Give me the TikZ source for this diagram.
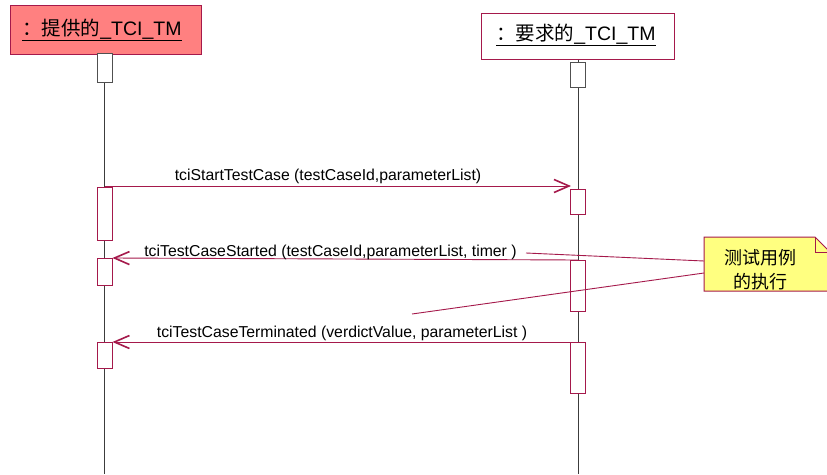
\documentclass[tikz,border=0pt]{standalone}
\usepackage{fontspec}
\setmainfont{Liberation Sans}
\newfontfamily\cjk{Noto Sans CJK SC}
\usetikzlibrary{arrows.meta}
\definecolor{umlred}{RGB}{165,25,75}
\definecolor{headfill}{RGB}{255,128,128}
\definecolor{notefill}{RGB}{255,255,128}
\definecolor{actgray}{RGB}{80,80,80}
\definecolor{lifegray}{RGB}{60,60,60}
\begin{document}
\begin{tikzpicture}[x=1pt,y=-1pt,
  headbox/.style={draw=umlred,line width=1pt,inner sep=0pt},
  titletext/.style={inner sep=0pt,font=\fontsize{19.5}{21}\selectfont},
  lifeline/.style={draw=lifegray,line width=1pt},
  act/.style={draw=umlred,fill=white,line width=0.9pt,minimum width=15pt,inner sep=0pt,anchor=north},
  actg/.style={act,draw=actgray},
  msg/.style={draw=umlred,line width=0.9pt,-{Straight Barb[length=15pt,width=13pt,line width=1.6pt]}},
  msglabel/.style={anchor=base,inner sep=0pt,font=\fontsize{15.8}{18}\selectfont},
  notelink/.style={draw=umlred,line width=0.9pt}
]
\useasboundingbox (0,0) rectangle (827,474);
\fill[white] (0,0) rectangle (827,474);

% heads
\node[headbox,fill=headfill,minimum width=191pt,minimum height=49pt] (h1) at (105.5,29.5) {};
\node[titletext] (t1) at (102,30) {\underline{{\cjk ：提供的}\_TCI\_TM}};
\node[headbox,fill=white,minimum width=193pt,minimum height=46pt] (h2) at (577.5,36) {};
\node[titletext] (t2) at (576,35) {\underline{{\cjk ：要求的}\_TCI\_TM}};

% lifelines
\coordinate (l1end) at (104.5,474);
\coordinate (l2end) at (578,474);
\draw[lifeline] (h1.south -| l1end) -- (l1end);
\draw[lifeline] (h2.south -| l2end) -- (l2end);

% activations left
\node[actg,minimum height=29pt] (la1) at (104.5,53) {};
\node[act,minimum height=53pt] (la2) at (104.5,187) {};
\node[act,minimum height=27pt] (la3) at (104.5,258) {};
\node[act,minimum height=26pt] (la4) at (104.5,342) {};
% activations right
\node[actg,minimum height=25pt] (ra1) at (578,62) {};
\node[act,minimum height=25pt] (ra2) at (578,189) {};
\node[act,minimum height=51pt] (ra3) at (578,260) {};
\node[act,minimum height=51pt] (ra4) at (578,342) {};

% messages
\coordinate (m1s) at (105,186);
\coordinate (m1e) at (571,186);
\draw[msg] (m1s) -- (m1e);
\node[msglabel] (m1l) at (328,180) {tciStartTestCase (testCaseId,parameterList)};

\draw[msg] (ra3.north) -- (la3.north east);
\node[msglabel] (m2l) at (330.5,256) {tciTestCaseStarted (testCaseId,parameterList, timer )};

\draw[msg] (ra4.north) -- (la4.north east);
\node[msglabel] (m3l) at (342,337) {tciTestCaseTerminated (verdictValue, parameterList )};

% note
\coordinate (nA) at (704,237);
\coordinate (nB) at (815,237);
\coordinate (nC) at (830,252);
\coordinate (nD) at (830,291);
\coordinate (nE) at (704,291);
\filldraw[fill=notefill,draw=umlred,line width=1pt] (nA) -- (nB) -- (nC) -- (nD) -- (nE) -- cycle;
\draw[umlred,line width=0.8pt] (nB) -- (815,252) -- (nC);
\node[inner sep=0pt,align=center,font=\cjk\fontsize{18}{24}\selectfont] (note) at (760,270) {测试用例\\的执行};

\coordinate (c1) at (526,253);
\coordinate (c2) at (412,314);
\draw[notelink] (c1) -- (704,261);
\draw[notelink] (c2) -- (704,273);
\end{tikzpicture}
\end{document}
